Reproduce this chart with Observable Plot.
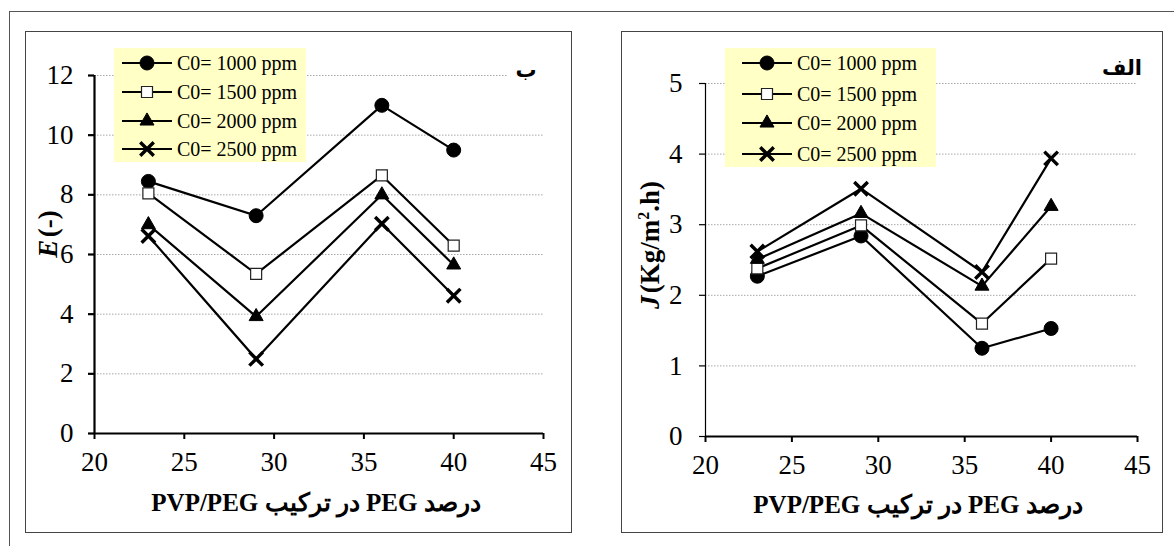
<!DOCTYPE html>
<html>
<head>
<meta charset="utf-8">
<script src="https://cdn.jsdelivr.net/npm/d3@7"></script>
<script src="https://cdn.jsdelivr.net/npm/@observablehq/plot@0.6"></script>
<style>
  body { margin: 0; background: #fff; }
  #page { position: relative; width: 1174px; height: 546px; overflow: hidden; background: #fff;
          font-family: "Liberation Serif", serif; color: #000; }
  .box { position: absolute; border: 1.5px solid #444; box-sizing: border-box; }
  .legend { position: absolute; background: #ffffc6; }
  .lrow { position: absolute; left: 0; height: 24px; display: flex; align-items: center; font-size: 20px; white-space: nowrap; font-family: "Liberation Serif", serif; }
  .ytitle { position: absolute; font-weight: bold; font-size: 27px; white-space: nowrap; transform: translate(-50%, -50%) rotate(-90deg); font-family: "Liberation Serif", serif; }
  .xtitle { position: absolute; font-weight: bold; font-size: 25px; white-space: nowrap; transform: translate(-50%, -50%); direction: rtl; font-family: "Liberation Serif", "DejaVu Serif", serif; }
  .tag { position: absolute; background: #fff; font-weight: bold; font-size: 21px; direction: rtl; text-align: center; line-height: 30px; font-family: "DejaVu Sans", sans-serif; }
</style>
</head>
<body>
<div id="page"></div>
<script>
// ---------- data ----------
const xValues = [23, 29, 36, 40];
const seriesNames = ["C0= 1000 ppm", "C0= 1500 ppm", "C0= 2000 ppm", "C0= 2500 ppm"];
const seriesSymbols = ["circle", "square", "triangle", "times"];

// Panel ب : E (-)
const E_1000 = [8.45, 7.30, 11.0, 9.50];
const E_1500 = [8.05, 5.35, 8.65, 6.30];
const E_2000 = [7.00, 3.92, 8.00, 5.65];
const E_2500 = [6.62, 2.50, 7.03, 4.62];

// Panel الف : J (Kg/m2.h)
const J_1000 = [2.27, 2.84, 1.25, 1.53];
const J_1500 = [2.38, 2.99, 1.60, 2.52];
const J_2000 = [2.51, 3.16, 2.13, 3.26];
const J_2500 = [2.62, 3.51, 2.33, 3.94];

const xTicks = [20, 25, 30, 35, 40, 45];
const eTicks = [0, 2, 4, 6, 8, 10, 12];
const jTicks = [0, 1, 2, 3, 4, 5];

const xTitle = "درصد PEG در ترکیب PVP/PEG";
const leftTag = "ب";
const rightTag = "الف";

// ---------- helpers ----------
const page = document.getElementById("page");
const SERIF = "Liberation Serif";

function el(tag, cls, style, html) {
  const e = document.createElement(tag);
  if (cls) e.className = cls;
  Object.assign(e.style, style || {});
  if (html != null) e.innerHTML = html;
  page.appendChild(e);
  return e;
}

const symbolStyle = {
  circle:   {r: 7.0, fill: "black", stroke: "black", strokeWidth: 1},
  square:   {r: 6.2, fill: "white", stroke: "#222", strokeWidth: 1.2},
  triangle: {r: 5.2, fill: "black", stroke: "black", strokeWidth: 1},
  times:    {r: 6.2, fill: "none", stroke: "black", strokeWidth: 3.4}
};

function makePanel(cfg) {
  const rows = [];
  cfg.series.forEach((vals, si) => {
    vals.forEach((v, i) => rows.push({x: xValues[i], y: v, s: seriesNames[si], sym: seriesSymbols[si]}));
  });
  const dotMarks = seriesSymbols.map(sym => {
    const st = symbolStyle[sym];
    return Plot.dot(rows.filter(d => d.sym === sym), {x: "x", y: "y", symbol: sym, r: st.r, fill: st.fill, stroke: st.stroke, strokeWidth: st.strokeWidth});
  });
  const chart = Plot.plot({
    width: cfg.width, height: cfg.height,
    marginLeft: cfg.ml, marginRight: cfg.mr, marginTop: cfg.mt, marginBottom: cfg.mb,
    style: {background: "transparent", color: "black", overflow: "visible"},
    x: {domain: [20, 45], label: null},
    y: {domain: [0, cfg.yTicks[cfg.yTicks.length - 1]], label: null},
    marks: [
      Plot.gridY(cfg.yTicks.filter(t => t > 0), {stroke: "#a8a8a8", strokeOpacity: 1, strokeWidth: 1, strokeDasharray: "1.5,1.5"}),
      Plot.line(rows, {x: "x", y: "y", z: "s", stroke: "black", strokeWidth: 2.2}),
      ...dotMarks,
      Plot.ruleX([20], {stroke: "black", strokeWidth: cfg.yAxisWidth}),
      Plot.ruleY([0], {stroke: "black", strokeWidth: 2.2}),
      Plot.axisX({ticks: xTicks, tickSize: 6, strokeWidth: 2, tickFormat: () => ""}),
      Plot.axisY({ticks: cfg.yTicks, tickSize: 6, strokeWidth: cfg.yAxisWidth, tickFormat: () => ""}),
      // tick labels drawn as text marks through the scales
      Plot.text(xTicks, {x: d => d, y: () => 0, dy: 29, text: d => String(d), fontSize: 27, fontFamily: SERIF, fill: "black"}),
      Plot.text(cfg.yTicks, {x: () => 20, y: d => d, dx: -cfg.yPad, text: d => String(d), textAnchor: "end", fontSize: 27, fontFamily: SERIF, fill: "black"})
    ]
  });
  Object.assign(chart.style, {position: "absolute", left: cfg.left + "px", top: cfg.top + "px", maxWidth: "none"});
  page.appendChild(chart);
}

function legendSymbol(sym) {
  const st = symbolStyle[sym];
  const size = st.r * st.r * Math.PI;
  const map = {circle: d3.symbolCircle, square: d3.symbolSquare, triangle: d3.symbolTriangle, times: d3.symbolTimes};
  const path = d3.symbol(map[sym], size)();
  return `<svg width="50" height="20" style="display:block;overflow:visible">
    <line x1="0" y1="10" x2="50" y2="10" stroke="black" stroke-width="2.2"/>
    <path d="${path}" transform="translate(25,10)" fill="${st.fill}" stroke="${st.stroke}" stroke-width="${st.strokeWidth}"/>
  </svg>`;
}

function makeLegend(cfg) {
  const lg = el("div", "legend", {left: cfg.left + "px", top: cfg.top + "px", width: cfg.width + "px", height: cfg.height + "px"});
  seriesNames.forEach((name, i) => {
    const row = document.createElement("div");
    row.className = "lrow";
    Object.assign(row.style, {top: (cfg.rows[i] - 12) + "px", left: cfg.symLeft + "px"});
    row.innerHTML = legendSymbol(seriesSymbols[i]) + `<span style="margin-left:${cfg.gap}px">${name}</span>`;
    lg.appendChild(row);
  });
}

// ---------- outer frame ----------
el("div", "box", {left: "9px", top: "11px", width: "1200px", height: "600px", border: "1px solid #555"});

// ---------- left panel (ب) ----------
el("div", "box", {left: "25px", top: "31px", width: "547px", height: "502px"});
makePanel({
  series: [E_1000, E_1500, E_2000, E_2500], yTicks: eTicks,
  left: 26, top: 32, width: 545, height: 500,
  ml: 68, mr: 28, mt: 43, mb: 99, yAxisWidth: 2.2, yPad: 21
});
makeLegend({left: 114, top: 48, width: 192, height: 114, symLeft: 8, gap: 5, rows: [15, 44, 73, 101]});
el("div", "tag", {left: "508px", top: "55px", width: "36px", height: "30px"}, leftTag);
el("div", "ytitle", {left: "48px", top: "234px"}, "<i>E</i>&#8202;(-)");
el("div", "xtitle", {left: "316px", top: "502px"}, xTitle);

// ---------- right panel (الف) ----------
el("div", "box", {left: "621px", top: "31px", width: "542px", height: "502px"});
makePanel({
  series: [J_1000, J_1500, J_2000, J_2500], yTicks: jTicks,
  left: 622, top: 32, width: 540, height: 500,
  ml: 83, mr: 25, mt: 51, mb: 96, yAxisWidth: 1.2, yPad: 23
});
makeLegend({left: 725, top: 48, width: 211, height: 119, symLeft: 17, gap: 5, rows: [15, 46, 75, 106]});
el("div", "tag", {left: "1102px", top: "53px", width: "40px", height: "30px"}, rightTag);
el("div", "ytitle", {left: "650px", top: "245px"}, "<i>J</i>&#8202;(Kg/m<sup style='font-size:16px'>2</sup>.h)");
el("div", "xtitle", {left: "918px", top: "504px"}, xTitle);
</script>
</body>
</html>
